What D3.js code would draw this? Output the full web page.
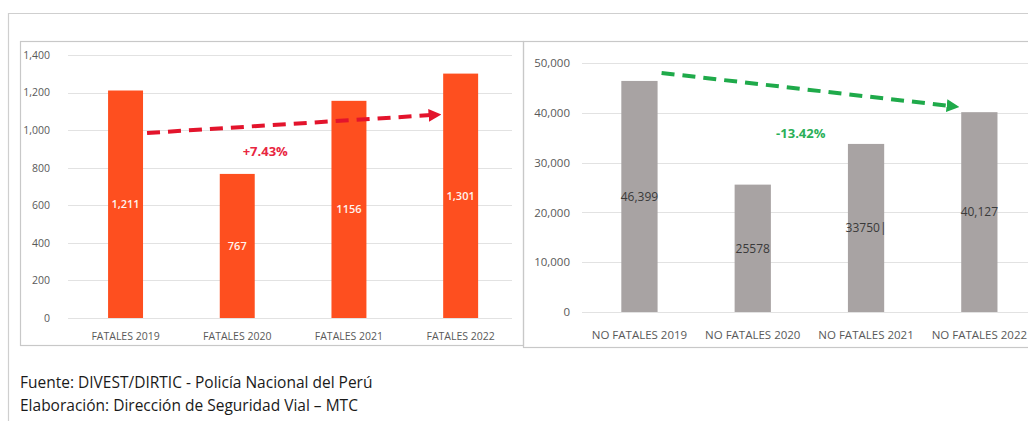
<!DOCTYPE html>
<html>
<head>
<meta charset="utf-8">
<script src="https://cdn.jsdelivr.net/npm/d3@7"></script>
<style>
  body { margin: 0; background: #fff; }
  svg text { font-family: "Open Sans", sans-serif; }
</style>
</head>
<body>
<div id="chart"></div>
<script>
'use strict';

// Data
const fatalCats = ["FATALES 2019", "FATALES 2020", "FATALES 2021", "FATALES 2022"];
const fatalVals = [1211, 767, 1156, 1301];
const fatalLabels = ["1,211", "767", "1156", "1,301"];
const fatalTicks = [0, 200, 400, 600, 800, 1000, 1200, 1400];
const fatalTrend = [985, 1080];     // arrow start / end value
const fatalChange = "+7.43%";

const nonFatalCats = ["NO FATALES 2019", "NO FATALES 2020", "NO FATALES 2021", "NO FATALES 2022"];
const nonFatalVals = [46399, 25578, 33750, 40127];
const nonFatalLabels = ["46,399", "25578", "33750|", "40,127"];
const nonFatalTicks = [0, 10000, 20000, 30000, 40000, 50000];
const nonFatalTrend = [48000, 41400];
const nonFatalChange = "-13.42%";

const sources = [
  "Fuente: DIVEST/DIRTIC - Policía Nacional del Perú",
  "Elaboración: Dirección de Seguridad Vial – MTC"
];

const W = 1028, H = 421;
const svg = d3.select("#chart").append("svg")
  .attr("width", W).attr("height", H);

// outer frame
svg.append("path")
  .attr("d", `M8.5,${H} V13.5 H${W}`)
  .attr("fill", "none").attr("stroke", "#cfcfcf").attr("stroke-width", 1.2);

const defs = svg.append("defs");
function marker(id, color) {
  defs.append("marker")
    .attr("id", id)
    .attr("viewBox", "0 0 10 10")
    .attr("refX", 2).attr("refY", 5)
    .attr("markerWidth", 3.2).attr("markerHeight", 3.2)
    .attr("orient", "auto")
    .append("path").attr("d", "M0,0 L10,5 L0,10 Z").attr("fill", color);
}
marker("arrRed", "#e3142c");
marker("arrGreen", "#1faa4a");

function panel(o) {
  const g = svg.append("g");

  // panel box
  g.append("rect")
    .attr("x", o.box[0] + 0.5).attr("y", o.box[1] + 0.5)
    .attr("width", o.box[2]).attr("height", o.box[3])
    .attr("fill", "none").attr("stroke", "#c8c8c8").attr("stroke-width", 1.2);

  const x = d3.scaleBand().domain(o.cats).range(o.xRange)
    .paddingInner(o.pad).paddingOuter(o.pad / 2);
  const y = d3.scaleLinear().domain([0, o.ticks[o.ticks.length - 1]]).range(o.yRange);

  // gridlines
  g.append("g").selectAll("line").data(o.ticks).join("line")
    .attr("x1", o.grid[0]).attr("x2", o.grid[1])
    .attr("y1", d => Math.round(y(d)) + 0.5).attr("y2", d => Math.round(y(d)) + 0.5)
    .attr("stroke", "#e2e2e2").attr("stroke-width", 1);

  // y axis
  const yAxis = d3.axisLeft(y).tickValues(o.ticks).tickSize(0).tickPadding(0)
    .tickFormat(d3.format(","));
  g.append("g")
    .attr("transform", `translate(${o.yLabelX},0)`)
    .call(yAxis)
    .call(s => s.select(".domain").remove())
    .call(s => s.selectAll("text")
      .attr("fill", "#595959")
      .style("font-size", o.tickSize + "px")
      .style("font-family", "'Open Sans', sans-serif"));

  // x axis labels
  const xAxis = d3.axisBottom(x).tickSize(0).tickPadding(0);
  g.append("g")
    .attr("transform", `translate(0,${o.xLabelY})`)
    .call(xAxis)
    .call(s => s.select(".domain").remove())
    .call(s => s.selectAll("text")
      .attr("fill", "#595959")
      .attr("dy", "0")
      .style("font-size", o.catSize + "px")
      .style("font-family", "'Open Sans', sans-serif"));

  // bars
  g.append("g").selectAll("rect").data(o.vals).join("rect")
    .attr("x", (d, i) => x(o.cats[i]))
    .attr("y", d => y(d))
    .attr("width", x.bandwidth())
    .attr("height", d => y(0) - y(d))
    .attr("fill", o.color);

  // value labels in the middle of each bar
  g.append("g").selectAll("text").data(o.vals).join("text")
    .attr("x", (d, i) => x(o.cats[i]) + x.bandwidth() / 2)
    .attr("y", d => y(d / 2))
    .attr("dy", "0.35em")
    .attr("text-anchor", "middle")
    .attr("fill", o.labelColor)
    .style("font-size", o.labelSize + "px")
    .style("font-weight", o.labelWeight)
    .text((d, i) => o.labels[i]);

  // trend arrow: from right edge of first bar to left edge of last bar
  const x0 = x(o.cats[0]) + x.bandwidth() + 4;
  const x1 = x(o.cats[o.cats.length - 1]) - 12;
  g.append("line")
    .attr("x1", x0).attr("y1", y(o.trend[0]))
    .attr("x2", x1).attr("y2", y(o.trend[1]))
    .attr("stroke", o.arrowColor).attr("stroke-width", 4)
    .attr("stroke-dasharray", "13,8")
    .attr("marker-end", `url(#${o.marker})`);

  g.append("text")
    .attr("x", x(o.cats[1]) + x.bandwidth() / 2 + o.changeDx)
    .attr("y", y(o.changeAt))
    .attr("dy", "0.35em")
    .attr("text-anchor", "middle")
    .attr("fill", o.changeColor)
    .style("font-size", "13px")
    .style("font-weight", "bold")
    .text(o.change);
}

panel({
  box: [20, 41, 503, 304],
  cats: fatalCats, vals: fatalVals, labels: fatalLabels, ticks: fatalTicks,
  xRange: [69.7, 516.5], yRange: [318, 55], pad: 0.687,
  grid: [68, 512], yLabelX: 50, xLabelY: 340,
  tickSize: 10.5, catSize: 10.5,
  color: "#fe4f1f", labelColor: "#fff4ee", labelSize: 11, labelWeight: 600,
  trend: fatalTrend, arrowColor: "#e3142c", marker: "arrRed",
  change: fatalChange, changeAt: 884, changeDx: 28, changeColor: "#e8263f"
});

panel({
  box: [523, 41, 520, 306],
  cats: nonFatalCats, vals: nonFatalVals, labels: nonFatalLabels, ticks: nonFatalTicks,
  xRange: [582.8, 1036], yRange: [312, 63], pad: 0.68,
  grid: [582, 1028], yLabelX: 570, xLabelY: 339,
  tickSize: 11.5, catSize: 11.5,
  color: "#a8a3a3", labelColor: "#3a3a3a", labelSize: 12, labelWeight: 400,
  trend: nonFatalTrend, arrowColor: "#1faa4a", marker: "arrGreen",
  change: nonFatalChange, changeAt: 35950, changeDx: 48, changeColor: "#2bb058"
});

// source notes
svg.append("g").selectAll("text").data(sources).join("text")
  .attr("x", 20)
  .attr("y", (d, i) => 388 + i * 23)
  .attr("fill", "#1a1a1a")
  .style("font-size", "15.5px")
  .text(d => d);
</script>
</body>
</html>
